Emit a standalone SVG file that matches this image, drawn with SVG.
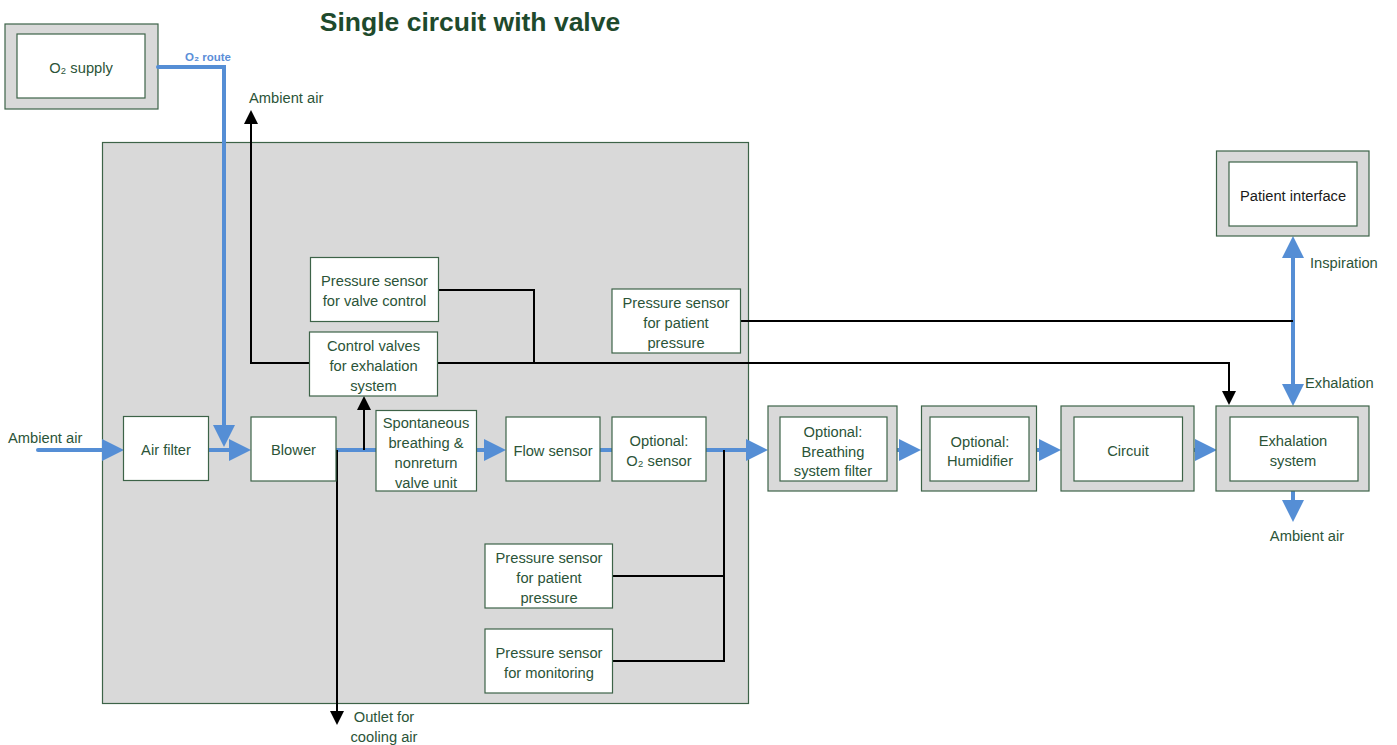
<svg xmlns="http://www.w3.org/2000/svg" width="1397" height="745" viewBox="0 0 1397 745">
<style>
  text { font-family: "Liberation Sans", Arial, sans-serif; font-size: 14.7px; fill: #2b5438; }
  .c { text-anchor: middle; }
  .title { font-size: 26.5px; font-weight: bold; fill: #1e4a2c; }
  .o2lbl { font-size: 11.5px; font-weight: bold; fill: #5b8ed8; }
  .dark { fill: #1a1a1a; }
  .outer { fill: #d9d9d9; stroke: #3d6348; stroke-width: 1.2; }
  .inner { fill: #ffffff; stroke: #3d6348; stroke-width: 1.2; }
  .main { fill: #d9d9d9; stroke: #3d6348; stroke-width: 1.2; }
  .blue { fill: none; stroke: #558ed5; stroke-width: 4; stroke-linecap: round; }
  .blk { fill: none; stroke: #000000; stroke-width: 2; }
</style>
<defs>
  <marker id="ba" markerUnits="userSpaceOnUse" markerWidth="22" markerHeight="22" refX="0" refY="11" orient="auto-start-reverse" overflow="visible">
    <path d="M0,0 L22,11 L0,22 z" fill="#558ed5"/>
  </marker>
  <marker id="ka" markerUnits="userSpaceOnUse" markerWidth="14" markerHeight="14" refX="0" refY="7" orient="auto" overflow="visible">
    <path d="M0,0 L14,7 L0,14 z" fill="#000000"/>
  </marker>
</defs>

<text class="title c" x="470" y="31">Single circuit with valve</text>

<g id="main-unit"><rect class="main" x="102.5" y="142.5" width="646" height="561"/></g>

<g id="o2-supply">
  <rect class="outer" x="5" y="24" width="153" height="85"/>
  <rect class="inner" x="17" y="34" width="128" height="64"/>
  <text class="c" x="81" y="73">O₂ supply</text>
</g>

<g id="connectors">
  <!-- blue flow -->
  <path class="blue" d="M158,67 H224 V425" marker-end="url(#ba)"/>
  <line class="blue" x1="38" y1="450" x2="102" y2="450" marker-end="url(#ba)"/>
  <line class="blue" x1="209" y1="450" x2="229" y2="450" marker-end="url(#ba)"/>
  <line class="blue" x1="336" y1="450" x2="376" y2="450"/>
  <line class="blue" x1="476" y1="450" x2="484" y2="450" marker-end="url(#ba)"/>
  <line class="blue" x1="600" y1="450" x2="612" y2="450"/>
  <line class="blue" x1="706" y1="450" x2="746" y2="450" marker-end="url(#ba)"/>
  <line class="blue" x1="897" y1="450" x2="899" y2="450" marker-end="url(#ba)"/>
  <line class="blue" x1="1037" y1="450" x2="1039" y2="450" marker-end="url(#ba)"/>
  <line class="blue" x1="1194" y1="450" x2="1195" y2="450" marker-end="url(#ba)"/>
  <line class="blue" x1="1293" y1="258" x2="1293" y2="384" marker-start="url(#ba)" marker-end="url(#ba)"/>
  <line class="blue" x1="1293" y1="491" x2="1293" y2="500" marker-end="url(#ba)"/>
  <!-- black signal lines -->
  <path class="blk" d="M310,363 H251 V124" marker-end="url(#ka)"/>
  <path class="blk" d="M437,363 H1229 V391" marker-end="url(#ka)"/>
  <path class="blk" d="M438,290 H534 V363"/>
  <path class="blk" d="M740,321 H1293"/>
  <path class="blk" d="M364,450 V410" marker-end="url(#ka)"/>
  <path class="blk" d="M337,450 V711" marker-end="url(#ka)"/>
  <path class="blk" d="M724,450 V661 H612"/>
  <path class="blk" d="M724,576 H612"/>
</g>

<text class="o2lbl" x="185" y="61">O₂ route</text>
<text x="249" y="103">Ambient air</text>
<text x="8" y="443">Ambient air</text>
<text class="c" x="384" y="722">Outlet for</text>
<text class="c" x="384" y="742">cooling air</text>
<text class="c" x="1307" y="541">Ambient air</text>
<text x="1310" y="268">Inspiration</text>
<text x="1305" y="388">Exhalation</text>

<g id="air-filter">
  <rect class="inner" x="123.5" y="416.5" width="85" height="64"/>
  <text class="c" x="166" y="455">Air filter</text>
</g>
<g id="blower">
  <rect class="inner" x="251" y="417" width="85" height="64"/>
  <text class="c" x="293.5" y="455">Blower</text>
</g>
<g id="ps-valve-control">
  <rect class="inner" x="310.5" y="257.5" width="128" height="64"/>
  <text class="c" x="374.5" y="286">Pressure sensor</text>
  <text class="c" x="374.5" y="306">for valve control</text>
</g>
<g id="control-valves">
  <rect class="inner" x="309.5" y="332" width="128" height="64"/>
  <text class="c" x="373.5" y="351">Control valves</text>
  <text class="c" x="373.5" y="371">for exhalation</text>
  <text class="c" x="373.5" y="391">system</text>
</g>
<g id="spontaneous">
  <rect class="inner" x="376" y="410.5" width="100.5" height="80.5"/>
  <text class="c" x="426" y="428">Spontaneous</text>
  <text class="c" x="426" y="448">breathing &amp;</text>
  <text class="c" x="426" y="468">nonreturn</text>
  <text class="c" x="426" y="488">valve unit</text>
</g>
<g id="flow-sensor">
  <rect class="inner" x="506" y="417" width="94" height="64"/>
  <text class="c" x="553" y="456">Flow sensor</text>
</g>
<g id="o2-sensor">
  <rect class="inner" x="612" y="417" width="94" height="64"/>
  <text class="c" x="659" y="446">Optional:</text>
  <text class="c" x="659" y="466">O₂ sensor</text>
</g>
<g id="ps-patient-upper">
  <rect class="inner" x="612" y="289" width="128.5" height="64"/>
  <text class="c" x="676" y="308">Pressure sensor</text>
  <text class="c" x="676" y="328">for patient</text>
  <text class="c" x="676" y="348">pressure</text>
</g>
<g id="ps-patient-lower">
  <rect class="inner" x="485" y="544" width="127.5" height="64"/>
  <text class="c" x="549" y="563">Pressure sensor</text>
  <text class="c" x="549" y="583">for patient</text>
  <text class="c" x="549" y="603">pressure</text>
</g>
<g id="ps-monitoring">
  <rect class="inner" x="485" y="629" width="127.5" height="64"/>
  <text class="c" x="549" y="658">Pressure sensor</text>
  <text class="c" x="549" y="678">for monitoring</text>
</g>
<g id="breathing-filter">
  <rect class="outer" x="768" y="406" width="129" height="85"/>
  <rect class="inner" x="780" y="417" width="107" height="64"/>
  <text class="c" x="833" y="437">Optional:</text>
  <text class="c" x="833" y="457">Breathing</text>
  <text class="c" x="833" y="476">system filter</text>
</g>
<g id="humidifier">
  <rect class="outer" x="921.5" y="406" width="115" height="85"/>
  <rect class="inner" x="930" y="417" width="99" height="64"/>
  <text class="c" x="980" y="447">Optional:</text>
  <text class="c" x="980" y="466">Humidifier</text>
</g>
<g id="circuit">
  <rect class="outer" x="1061" y="406" width="133" height="85"/>
  <rect class="inner" x="1074" y="417" width="108.5" height="64"/>
  <text class="c" x="1128" y="456">Circuit</text>
</g>
<g id="exhalation-system">
  <rect class="outer" x="1216" y="406" width="153" height="85"/>
  <rect class="inner" x="1230" y="417" width="128" height="64"/>
  <text class="c" x="1293" y="446">Exhalation</text>
  <text class="c" x="1293" y="466">system</text>
</g>
<g id="patient-interface">
  <rect class="outer" x="1216.5" y="151" width="152.5" height="85"/>
  <rect class="inner" x="1229" y="162" width="128" height="64"/>
  <text class="c dark" x="1293" y="201">Patient interface</text>
</g>
</svg>
